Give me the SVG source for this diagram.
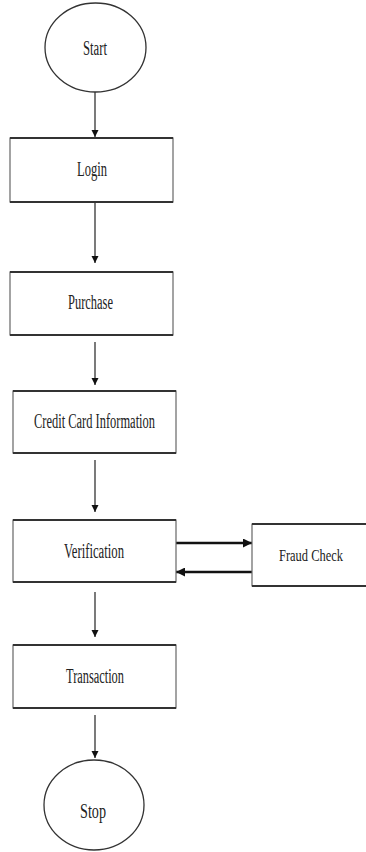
<svg xmlns="http://www.w3.org/2000/svg" width="366" height="852" viewBox="0 0 366 852">
<style>
.bg{fill:#fff}
.box{fill:#fff;stroke:#666;stroke-width:1.2}
.edge{stroke:#333;stroke-width:2;fill:none}
.ell{fill:#fff;stroke:#333;stroke-width:1.3}
.lbl{font-family:"Liberation Serif","Times New Roman",serif;font-size:20px;fill:#222}
.v{stroke:#222;stroke-width:1.2;fill:none}
.h{stroke:#111;stroke-width:2.6;fill:none}
</style>
<defs>
<marker id="ah" viewBox="0 0 10 10" refX="10" refY="5" markerWidth="7" markerHeight="11" markerUnits="userSpaceOnUse" orient="auto">
<path d="M0,0 L10,5 L0,10 Z" fill="#111"/>
</marker>
<marker id="ahb" viewBox="0 0 10 10" refX="10" refY="5" markerWidth="9" markerHeight="9" markerUnits="userSpaceOnUse" orient="auto">
<path d="M0,0 L10,5 L0,10 Z" fill="#111"/>
</marker>
</defs>
<rect class="bg" x="0" y="0" width="366" height="852"/>
<g id="connectors">
<line class="v" x1="95" y1="92" x2="95" y2="137" marker-end="url(#ah)"/>
<line class="v" x1="95" y1="203" x2="95" y2="263" marker-end="url(#ah)"/>
<line class="v" x1="95" y1="342" x2="95" y2="385" marker-end="url(#ah)"/>
<line class="v" x1="95" y1="460" x2="95" y2="512" marker-end="url(#ah)"/>
<line class="v" x1="95" y1="592" x2="95" y2="637" marker-end="url(#ah)"/>
<line class="v" x1="95" y1="715" x2="95" y2="758" marker-end="url(#ah)"/>
<line class="h" x1="176" y1="543" x2="252" y2="543" marker-end="url(#ahb)"/>
<line class="h" x1="252" y1="572" x2="176" y2="572" marker-end="url(#ahb)"/>
</g>
<g id="start">
<ellipse class="ell" cx="95.5" cy="47.5" rx="50.5" ry="44.5"/>
<text class="lbl" x="83" y="55" textLength="24" lengthAdjust="spacingAndGlyphs">Start</text>
</g>
<g id="login">
<rect class="box" x="10" y="138" width="163" height="64"/>
<line class="edge" x1="10" y1="138" x2="173" y2="138"/>
<line class="edge" x1="10" y1="202" x2="173" y2="202"/>
<text class="lbl" x="77" y="176" textLength="30" lengthAdjust="spacingAndGlyphs">Login</text>
</g>
<g id="purchase">
<rect class="box" x="10" y="272" width="163" height="63"/>
<line class="edge" x1="10" y1="272" x2="173" y2="272"/>
<line class="edge" x1="10" y1="335" x2="173" y2="335"/>
<text class="lbl" x="68" y="309" textLength="45" lengthAdjust="spacingAndGlyphs">Purchase</text>
</g>
<g id="credit">
<rect class="box" x="13" y="391" width="163" height="62"/>
<line class="edge" x1="13" y1="391" x2="176" y2="391"/>
<line class="edge" x1="13" y1="453" x2="176" y2="453"/>
<text class="lbl" x="34" y="428" textLength="121" lengthAdjust="spacingAndGlyphs">Credit Card Information</text>
</g>
<g id="verification">
<rect class="box" x="13" y="520" width="163" height="62"/>
<line class="edge" x1="13" y1="520" x2="176" y2="520"/>
<line class="edge" x1="13" y1="582" x2="176" y2="582"/>
<text class="lbl" x="64" y="558" textLength="60" lengthAdjust="spacingAndGlyphs">Verification</text>
</g>
<g id="fraud">
<path class="box" d="M366,524 H252 V586 H366"/>
<line class="edge" x1="252" y1="524" x2="366" y2="524"/>
<line class="edge" x1="252" y1="586" x2="366" y2="586"/>
<text class="lbl" x="311" y="561" text-anchor="middle" style="font-size:17px" textLength="64" lengthAdjust="spacingAndGlyphs">Fraud Check</text>
</g>
<g id="transaction">
<rect class="box" x="13" y="645" width="163" height="63"/>
<line class="edge" x1="13" y1="645" x2="176" y2="645"/>
<line class="edge" x1="13" y1="708" x2="176" y2="708"/>
<text class="lbl" x="66" y="683" textLength="58" lengthAdjust="spacingAndGlyphs">Transaction</text>
</g>
<g id="stop">
<ellipse class="ell" cx="94" cy="805" rx="50" ry="45"/>
<text class="lbl" x="80" y="818" textLength="26" lengthAdjust="spacingAndGlyphs">Stop</text>
</g>
</svg>
